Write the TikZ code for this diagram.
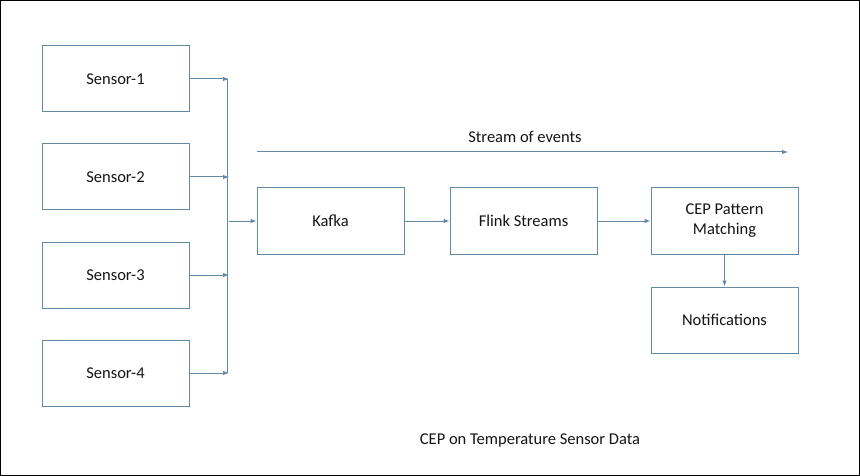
\documentclass[tikz,border=0pt]{standalone}
\usepackage{fontspec}
\setmainfont{Carlito}
\usetikzlibrary{arrows.meta}
\definecolor{lc}{RGB}{100,137,166}
\definecolor{tc}{RGB}{20,20,20}
\tikzset{
  box/.style={draw=lc, line width=1pt, minimum width=147pt, minimum height=66pt, inner sep=0pt, align=center, text=tc, font=\fontsize{16.5}{20}\selectfont},
  conn/.style={draw=lc, line width=1pt, -{Latex[length=6pt,width=4.5pt]}},
  plain/.style={draw=lc, line width=1pt},
  lbl/.style={text=tc, font=\fontsize{16.5}{20}\selectfont, inner sep=0pt}
}
\begin{document}
\begin{tikzpicture}[x=1pt,y=-1pt]
\useasboundingbox (0,0) rectangle (860,476);
\draw[black, line width=1.2pt] (0.6,0.6) rectangle (859.4,475.4);
\node[box] (s1) at (115.5,79) {Sensor-1};
\node[box] (s2) at (115.5,177) {Sensor-2};
\node[box] (s3) at (115.5,275) {Sensor-3};
\node[box] (s4) at (115.5,373) {Sensor-4};
\node[box] (kafka) at (330.5,221) {Kafka};
\node[box] (flink) at (523.5,221) {Flink Streams};
\node[box] (cep) at (724.5,221) {CEP Pattern\\Matching};
\node[box] (notif) at (724.5,320) {Notifications};
\coordinate (j1) at (229,79);
\coordinate (j2) at (229,177);
\coordinate (j3) at (229,275);
\coordinate (j4) at (229,373);
\coordinate (v1) at (227,79);
\coordinate (v4) at (227,373);
\coordinate (m) at (229,221);
\draw[conn] (s1.east) -- (j1);
\draw[conn] (s2.east) -- (j2);
\draw[conn] (s3.east) -- (j3);
\draw[conn] (s4.east) -- (j4);
\draw[plain] (v1) -- (v4);
\draw[conn] (m) -- (kafka.west);
\draw[conn] (kafka.east) -- (flink.west);
\draw[conn] (flink.east) -- (cep.west);
\draw[conn] (cep.south) -- (notif.north);
\coordinate (se1) at (257,152);
\coordinate (se2) at (788,152);
\draw[conn] (se1) -- (se2);
\node[lbl] (stream) at (525,137) {Stream of events};
\node[lbl] (caption) at (530,440) {CEP on Temperature Sensor Data};
\end{tikzpicture}
\end{document}
